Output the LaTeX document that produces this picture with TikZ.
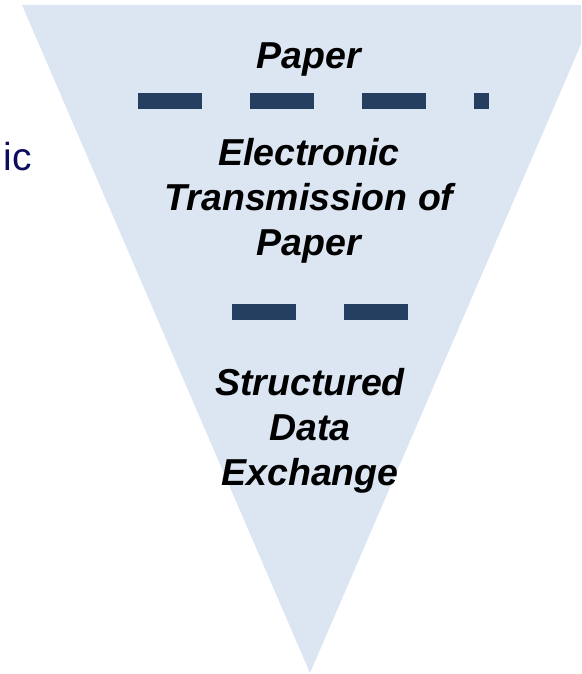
\documentclass[tikz,border=0pt]{standalone}
\usepackage{fontspec}
\setmainfont{Liberation Sans}
\usepackage{xcolor}
\usetikzlibrary{positioning,calc}
\definecolor{funnelblue}{RGB}{220,230,242}
\definecolor{barnavy}{RGB}{36,63,96}
\definecolor{leftnavy}{RGB}{12,12,96}
\begin{document}
\begin{tikzpicture}[x=1pt, y=-1pt,
  stage/.style={align=center, inner sep=0pt, font=\fontsize{37.5}{45}\selectfont\bfseries\itshape, text=black},
  sidetext/.style={inner sep=0pt, font=\fontsize{39}{45}\selectfont, text=leftnavy},
  divider/.style={barnavy, line width=16pt, dash pattern=on 64pt off 48pt}
]
\useasboundingbox (0,0) rectangle (581,674);
\clip (0,0) rectangle (581,674);

% Funnel
\fill[funnelblue] (22,5) coordinate (tl) -- (598,5) coordinate (tr) -- (310,673) coordinate (apex) -- cycle;

% Cut-off label on the left
\node[sidetext, anchor=base east] (side) at (32,170) {ic};

% Stages (base = last line)
\node[stage, anchor=base] (paper) at (309,69) {Paper};
\node[stage, anchor=base] (etp) at (309,255) {Electronic\\Transmission of\\Paper};
\node[stage, anchor=base] (sde) at (310,485) {Structured\\Data\\Exchange};

% Dividers
\coordinate (d1a) at (138,101);
\coordinate (d1b) at (489,101);
\coordinate (d2a) at (232,312);
\coordinate (d2b) at (408,312);
\draw[divider] (d1a) -- (d1b);
\draw[divider] (d2a) -- (d2b);
\end{tikzpicture}
\end{document}
